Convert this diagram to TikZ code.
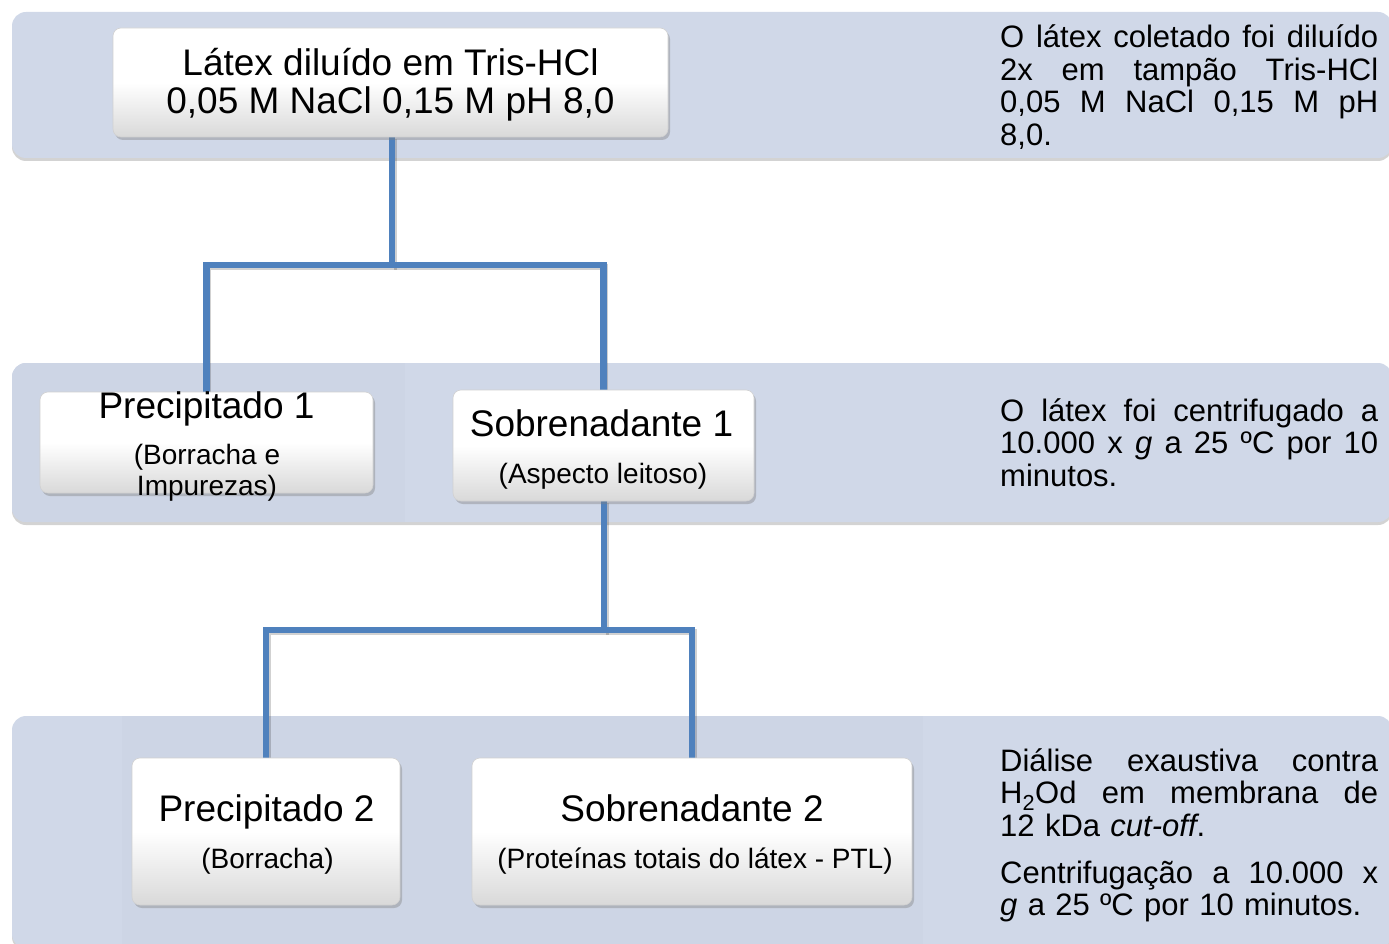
\documentclass[tikz,border=0pt]{standalone}
\usepackage{fontspec}
\setmainfont{Liberation Sans}
\usetikzlibrary{shadows}
\definecolor{bandc}{RGB}{208,216,232}
\definecolor{bandd}{RGB}{205,213,229}
\definecolor{connc}{RGB}{79,129,189}
\pgfdeclarelayer{back}
\pgfdeclarelayer{mid}
\pgfsetlayers{back,mid,main}
\tikzset{
 band/.style={fill=bandc, rounded corners=14pt, drop shadow={shadow xshift=0pt, shadow yshift=-3pt, opacity=0.35}},
 boxs/.style={rectangle, rounded corners=8pt, inner sep=0pt, top color=white, bottom color=black!15, middle color=white, draw=black!18, line width=0.6pt, drop shadow={shadow xshift=2pt, shadow yshift=-3pt, opacity=0.4}},
 conn/.style={draw=connc, line width=6.5pt, line join=miter, preaction={draw=black, draw opacity=0.18, line width=6.5pt, transform canvas={shift={(1.5pt,-2pt)}}}},
 ttl/.style={anchor=base, inner sep=0pt, font=\fontsize{37}{38}\selectfont, align=center},
 sub/.style={anchor=base, inner sep=0pt, font=\fontsize{28}{31}\selectfont, align=center},
 side/.style={anchor=base west, inner sep=0pt, text width=378pt, font=\fontsize{31}{32.7}\selectfont, align=left},
}
\newcommand{\jl}[1]{\leavevmode\hbox to 378pt{\spaceskip=0.278em plus 1fil\relax #1}}
\begin{document}
\begin{tikzpicture}[x=1pt,y=-1pt]
\useasboundingbox (0,0) rectangle (1389,944);
% bands
\begin{pgfonlayer}{back}
\path[band] (12,12) rectangle (1392,158);
\path[band] (12,363) rectangle (1392,522);
\path[band] (12,716) rectangle (1392,948);
\begin{scope}
\clip[rounded corners=14pt] (12,363) rectangle (1392,522);
\fill[bandd] (0,363) rectangle (405,522);
\end{scope}
\fill[bandd] (122,716) rectangle (923,944);
\end{pgfonlayer}
% boxes
\node[boxs, minimum width=555pt, minimum height=109pt] (b1) at (390.5,82.5) {};
\node[boxs, minimum width=333pt, minimum height=101pt] (p1) at (206.5,442.5) {};
\node[boxs, minimum width=301pt, minimum height=111pt] (s1) at (603.5,445.5) {};
\node[boxs, minimum width=268pt, minimum height=147pt] (p2) at (266,831.5) {};
\node[boxs, minimum width=440pt, minimum height=147pt] (s2) at (692,831.5) {};
% box texts (anchor=base of a multi-line node is its last line)
\node[ttl] (b1t) at (390.5,113.5) {Látex diluído em Tris-HCl\\0,05 M NaCl 0,15 M pH 8,0};
\node[ttl] (p1t) at (206.5,418) {Precipitado 1};
\node[sub] (p1s) at (207,495) {(Borracha e\\Impurezas)};
\node[ttl] (s1t) at (601.5,436.5) {Sobrenadante 1};
\node[sub] (s1s) at (603,483) {(Aspecto leitoso)};
\node[ttl] (p2t) at (266.5,821.5) {Precipitado 2};
\node[sub] (p2s) at (267.5,868) {(Borracha)};
\node[ttl] (s2t) at (692,821.5) {Sobrenadante 2};
\node[sub] (s2s) at (695,868) {(Proteínas totais do látex - PTL)};
% side texts
\node[side] (d1) at (1000,47.5) {\jl{O látex coletado foi diluído}\\\jl{2x em tampão Tris-HCl}\\\jl{0,05 M NaCl 0,15 M pH}\\8,0.};
\node[side] (d2) at (1000,421) {\jl{O látex foi centrifugado a}\\\jl{10.000 x \textit{g} a 25 ºC por 10}\\minutos.};
\node[side] (d3) at (1000,771) {\jl{Diálise exaustiva contra}\\\jl{H\textsubscript{2}Od em membrana de}\\12 kDa \textit{cut-off}.\\[14pt]\jl{Centrifugação a 10.000 x}\\\textit{g} a 25 ºC por 10 minutos.};
% connectors
\coordinate (j1) at (392,265);
\coordinate (j2) at (604,630);
\begin{pgfonlayer}{mid}
\draw[conn] (b1.south -| j1) -- (j1) -| (p1.north);
\draw[conn] (j1) -| (s1.north);
\draw[conn] (s1.south -| j2) -- (j2) -| (p2.north);
\draw[conn] (j2) -| (s2.north);
\end{pgfonlayer}
\end{tikzpicture}
\end{document}
